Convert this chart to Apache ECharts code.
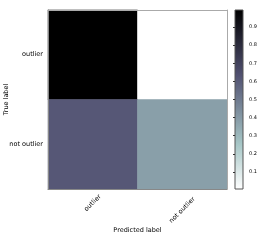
<!DOCTYPE html>
<html><head><meta charset="utf-8">
<script src="https://cdn.jsdelivr.net/npm/echarts@6/dist/echarts.min.js"></script>
<style>html,body{margin:0;padding:0;background:#fff}#c{width:271px;height:241px}</style>
</head><body><div id="c"></div>
<script>
const predictedLabels = ['outlier', 'not outlier'];
const trueLabels = ['outlier', 'not outlier'];
const rowOutlier = [0.994, 0.006];
const rowNotOutlier = [0.615, 0.385];
const colorbarTicks = [0.1, 0.2, 0.3, 0.4, 0.5, 0.6, 0.7, 0.8, 0.9];
const vmin = 0.006, vmax = 0.994;

// matplotlib "bone" colormap segments (reversed below)
function bone(t) {
  const seg = (pts) => {
    for (let i = 1; i < pts.length; i++) {
      if (t <= pts[i][0]) {
        const a = pts[i-1], b = pts[i];
        return a[1] + (b[1]-a[1]) * (t-a[0]) / (b[0]-a[0]);
      }
    }
    return pts[pts.length-1][1];
  };
  const r = seg([[0,0],[0.746032,0.652778],[1,1]]);
  const g = seg([[0,0],[0.365079,0.319444],[0.746032,0.777778],[1,1]]);
  const b = seg([[0,0],[0.365079,0.444444],[1,1]]);
  return 'rgb(' + Math.round(r*255) + ',' + Math.round(g*255) + ',' + Math.round(b*255) + ')';
}
const boneR = (v) => bone(1 - v);
const mapColors = [];
for (let i = 0; i <= 100; i++) mapColors.push(boneR(i/100));
const gradStops = [0, 0.253968, 0.634921, 1].map(o => ({offset: o, color: boneR(o)}));

const rows = [rowOutlier, rowNotOutlier];
const heatData = [];
rows.forEach((row, yi) => row.forEach((v, xi) => heatData.push([xi, yi, v])));

const font = 'DejaVu Sans';
const fs = 6.5;
const chart = echarts.init(document.getElementById('c'));
chart.setOption({
  animation: false,
  textStyle: {fontFamily: font},
  grid: [
    {left: 48, top: 10, width: 179, height: 179, containLabel: false, outerBoundsMode: 'none'},
    {left: 235, top: 10, width: 8, height: 179, show: true, containLabel: false, outerBoundsMode: 'none',
     backgroundColor: new echarts.graphic.LinearGradient(0, 1, 0, 0, gradStops),
     borderColor: '#555', borderWidth: 1}
  ],
  xAxis: [
    {type: 'category', data: predictedLabels, gridIndex: 0, position: 'bottom', z: 5,
     name: 'Predicted label', nameLocation: 'middle', nameGap: 38, nameMoveOverlap: false,
     nameTextStyle: {fontSize: fs, color: '#000', fontFamily: font},
     axisLine: {lineStyle: {color: '#888', width: 1}},
     axisTick: {inside: true, length: 3, alignWithLabel: true, lineStyle: {color: '#000'}},
     axisLabel: {rotate: 45, fontSize: fs, color: '#000', margin: 14, fontFamily: font,
                 align: 'center', verticalAlign: 'middle',
                 formatter: (v, i) => i === 0 ? '{a|' + v + '}' : '{b|' + v + '}',
                 rich: {a: {fontSize: fs, fontFamily: font, color: '#000'},
                        b: {fontSize: fs, fontFamily: font, color: '#000', padding: [10, 10, 0, 0]}}},
     splitLine: {show: false}},
    {type: 'category', data: predictedLabels, gridIndex: 0, position: 'top', z: 5,
     axisLine: {lineStyle: {color: '#aaa', width: 1}},
     axisTick: {inside: true, length: 3, alignWithLabel: true, lineStyle: {color: '#000'}},
     axisLabel: {show: false}},
    {type: 'value', gridIndex: 1, min: 0, max: 1, show: false}
  ],
  yAxis: [
    {type: 'category', data: trueLabels, inverse: true, gridIndex: 0, position: 'left', z: 5,
     name: 'True label', nameLocation: 'middle', nameGap: 38, nameRotate: 90, nameMoveOverlap: false,
     nameTextStyle: {fontSize: fs, color: '#000', fontFamily: font},
     axisLine: {lineStyle: {color: '#888', width: 1}},
     axisTick: {inside: true, length: 3, alignWithLabel: true, lineStyle: {color: '#000'}},
     axisLabel: {fontSize: fs, color: '#000', margin: 5, fontFamily: font},
     splitLine: {show: false}},
    {type: 'category', data: trueLabels, inverse: true, gridIndex: 0, position: 'right', z: 5,
     axisLine: {lineStyle: {color: '#aaa', width: 1}},
     axisTick: {inside: true, length: 3, alignWithLabel: true, lineStyle: {color: '#000'}},
     axisLabel: {show: false}},
    {type: 'value', gridIndex: 1, min: vmin, max: vmax, position: 'right', z: 5,
     axisLine: {show: false},
     splitLine: {show: false},
     axisTick: {inside: true, length: 2, customValues: colorbarTicks, lineStyle: {color: '#333'}},
     axisLabel: {fontSize: 5, color: '#000', margin: 6, customValues: colorbarTicks,
                 formatter: v => v.toFixed(1), fontFamily: font}}
  ],
  visualMap: {show: false, min: vmin, max: vmax, dimension: 2, seriesIndex: 0,
              inRange: {color: mapColors}},
  series: [
    {type: 'heatmap', xAxisIndex: 0, yAxisIndex: 0, data: heatData,
     itemStyle: {borderWidth: 0}, emphasis: {disabled: true}}
  ]
});
</script></body></html>
